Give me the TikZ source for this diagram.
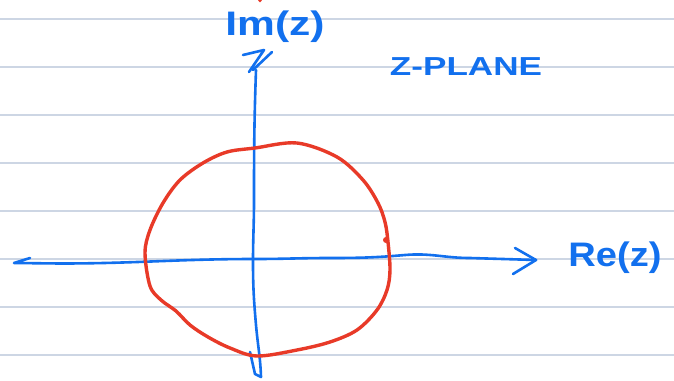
\documentclass[tikz,border=0pt]{standalone}
\usepackage{fontspec}
\setmainfont{Liberation Sans}
\usepackage{graphicx}
\definecolor{inkblue}{RGB}{18,112,238}
\definecolor{inkred}{RGB}{232,58,40}
\definecolor{ruleline}{RGB}{205,214,228}
\tikzset{
  ruling/.style={draw=ruleline, line width=2pt},
  axisink/.style={draw=inkblue, line width=2.6pt, line cap=round, line join=round},
  circink/.style={draw=inkred, line width=3.4pt, line cap=round, line join=round},
  handlabel/.style={text=inkblue, inner sep=0pt, font=\bfseries},
}
\begin{document}
\begin{tikzpicture}[x=1pt,y=-1pt]
\useasboundingbox (0,0) rectangle (674,380);
\fill[white] (0,0) rectangle (674,380);
% ruled paper lines
\foreach \yy in {19,67,115,163,211,259,307,355}
  \draw[ruling] (0,\yy) -- (674,\yy);
% small red mark at top
\fill[inkred] (260,0.5) circle (1.8);
% horizontal axis
\coordinate (hl) at (14,263);
\coordinate (hr) at (536,260);
\draw[axisink] (30,258) -- (hl) -- (60,263.5) to[out=0,in=180] (255,259)
  to[out=0,in=180] (330,258) to[out=0,in=185] (405,255) to[out=5,in=180] (470,258)
  -- (hr);
\draw[axisink] (515,248) -- (hr) -- (513,274);
% vertical axis
\coordinate (vt) at (256,70);
\coordinate (vb) at (261,377);
\draw[axisink] (243,55) -- (264,50) -- (249,72) (253,70) -- (272,52);
\draw[axisink] (vt) to[out=-92,in=90] (254,200) to[out=-90,in=90] (253,262)
  to[out=-90,in=95] (256,325) to[out=-85,in=92] (vb) -- (255,374) -- (250,352);
% red circle
\draw[circink] plot[smooth cycle, tension=0.55] coordinates {
  (255,148) (297,143) (337,157) (363,180) (378,203) (385,222) (388,242)
  (390,270) (387,290) (377,310) (357,330) (330,342) (297,350) (257,356)
  (230,348) (208,337) (190,325) (176,311) (161,300) (150,286) (145,253)
  (150,230) (163,203) (180,180) (203,163) (227,152)};
\fill[inkred] (386,240) circle (3);
% labels
\node[handlabel] (im) at (275,27) {\scalebox{1.25}[1]{\fontsize{34}{34}\selectfont Im(z)}};
\node[handlabel] (zp) at (466,67) {\scalebox{1.35}[1]{\fontsize{26}{26}\selectfont Z-PLANE}};
\node[handlabel] (re) at (615,258) {\scalebox{1.12}[1]{\fontsize{34}{34}\selectfont Re(z)}};
\end{tikzpicture}
\end{document}
